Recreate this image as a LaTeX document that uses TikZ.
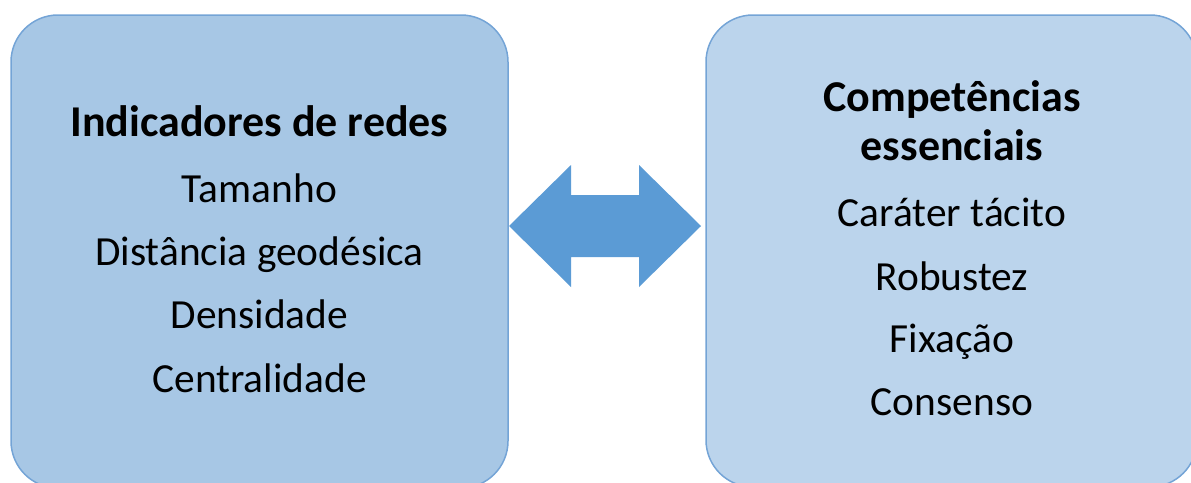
\documentclass[tikz,border=0pt]{standalone}
\usepackage{fontspec}
\setmainfont{Carlito}
\usetikzlibrary{positioning}
\definecolor{leftfill}{HTML}{A7C7E5}
\definecolor{rightfill}{HTML}{BBD4EC}
\definecolor{edgeblue}{HTML}{74A4D6}
\definecolor{arrowblue}{HTML}{5B9BD5}

\begin{document}
\begin{tikzpicture}[
            x=1pt, y=-1pt,
            panel/.style={rectangle, rounded corners=47pt, draw=edgeblue, line width=1.5pt},
            heading/.style={font=\fontsize{44}{50}\selectfont\bfseries, anchor=base, inner sep=0pt},
            item/.style={font=\fontsize{41.4}{48}\selectfont, anchor=base, inner sep=0pt},
            link/.style={fill=arrowblue, draw=none}
            ]
            \useasboundingbox (0,0) rectangle (1191,482);

            \node (indic) [panel, fill=leftfill, minimum width=497pt, minimum height=473pt] at (259.5,251.5) {};
            \node (comp) [panel, fill=rightfill, minimum width=491pt, minimum height=472pt] at (951.5,251) {};

            % two-headed block arrow between the panels
            \begin{scope}[shift={(605,226)}]
                \coordinate (swap) at (0,0);
                \fill [link] (-96,0) -- (-34,-61) -- (-34,-31) -- (34,-31) -- (34,-61)
                    -- (96,0) -- (34,61) -- (34,31) -- (-34,31) -- (-34,61) -- cycle;
            \end{scope}

            \node (indictitle) [heading] at (259.5,136) {Indicadores de redes};
            \node (tamanho) [item] at (259.5,202.5) {Tamanho};
            \node (distancia) [item] at (259.5,265) {Distância geodésica};
            \node (densidade) [item] at (259.5,328.5) {Densidade};
            \node (centralidade) [item] at (259.5,392) {Centralidade};

            \node (comptitle) [heading] at (952,111) {Competências};
            \node (comptitleb) [heading] at (952,160) {essenciais};
            \node (tacito) [item] at (952,226) {Caráter tácito};
            \node (robustez) [item] at (952,290) {Robustez};
            \node (fixacao) [item] at (952,352.5) {Fixação};
            \node (consenso) [item] at (952,415) {Consenso};
        \end{tikzpicture}
\end{document}
